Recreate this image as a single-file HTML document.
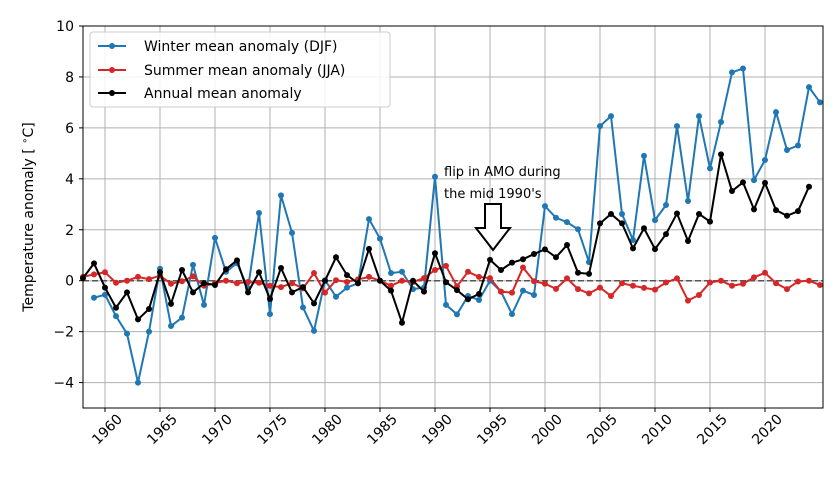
<!DOCTYPE html>
<html><head><meta charset="utf-8"><style>
body{margin:0;background:#fff;}
svg{display:block;font-family:"DejaVu Sans","Liberation Sans",sans-serif;}
</style></head><body>
<svg id="chart" width="840" height="480" viewBox="0 0 840 480">
<g id="grid"></g>
<g id="series"></g>
<rect x="83" y="26" width="740" height="382" fill="none" stroke="#000" stroke-width="1"/>
<g id="axes"></g>
<text transform="translate(33,217) rotate(-90)" text-anchor="middle" font-size="14">Temperature anomaly [ <tspan dy="-5" font-size="10">∘</tspan><tspan dy="5">C]</tspan></text>
<g>
<text x="444" y="176" font-size="13">flip in AMO during</text>
<text x="444" y="198" font-size="13">the mid 1990's</text>
<path d="M485,204 L501,204 L501,228 L510,228 L493,250 L476,228 L485,228 Z" fill="#fff" stroke="#000" stroke-width="2"/>
</g>
<g>
<rect x="90" y="32" width="300" height="75" rx="3" fill="#fff" fill-opacity="0.85" stroke="#ccc"/>
<g><line x1="98" y1="46" x2="126" y2="46" stroke="#1f77b4" stroke-width="2"/><circle cx="112" cy="46" r="3" fill="#1f77b4"/><text x="144" y="51" font-size="14">Winter mean anomaly (DJF)</text></g>
<g><line x1="98" y1="70" x2="126" y2="70" stroke="#d62728" stroke-width="2"/><circle cx="112" cy="70" r="3" fill="#d62728"/><text x="144" y="75" font-size="14">Summer mean anomaly (JJA)</text></g>
<g><line x1="98" y1="93" x2="126" y2="93" stroke="#000" stroke-width="2"/><circle cx="112" cy="93" r="3" fill="#000"/><text x="144" y="98" font-size="14">Annual mean anomaly</text></g>
</g>
</svg>
<script>
const winterYears=[1959,1960,1961,1962,1963,1964,1965,1966,1967,1968,1969,1970,1971,1972,1973,1974,1975,1976,1977,1978,1979,1980,1981,1982,1983,1984,1985,1986,1987,1988,1989,1990,1991,1992,1993,1994,1995,1996,1997,1998,1999,2000,2001,2002,2003,2004,2005,2006,2007,2008,2009,2010,2011,2012,2013,2014,2015,2016,2017,2018,2019,2020,2021,2022,2023,2024,2025];
const winterValues=[-0.67,-0.55,-1.39,-2.08,-4.0,-2.0,0.47,-1.78,-1.45,0.62,-0.95,1.68,0.35,0.69,-0.3,2.66,-1.31,3.35,1.88,-1.05,-1.97,0.02,-0.63,-0.27,-0.1,2.42,1.65,0.3,0.35,-0.33,-0.27,4.08,-0.95,-1.32,-0.6,-0.76,0.0,-0.43,-1.31,-0.39,-0.56,2.93,2.47,2.3,2.02,0.73,6.07,6.46,2.62,1.6,4.9,2.38,2.97,6.07,3.13,6.46,4.41,6.23,8.18,8.33,3.95,4.74,6.62,5.13,5.31,7.6,7.0];
const summerYears=[1958,1959,1960,1961,1962,1963,1964,1965,1966,1967,1968,1969,1970,1971,1972,1973,1974,1975,1976,1977,1978,1979,1980,1981,1982,1983,1984,1985,1986,1987,1988,1989,1990,1991,1992,1993,1994,1995,1996,1997,1998,1999,2000,2001,2002,2003,2004,2005,2006,2007,2008,2009,2010,2011,2012,2013,2014,2015,2016,2017,2018,2019,2020,2021,2022,2023,2024,2025];
const summerValues=[0.15,0.25,0.33,-0.08,0.0,0.15,0.06,0.2,-0.12,-0.02,0.17,-0.2,-0.1,0.0,-0.1,-0.05,-0.08,-0.2,-0.25,-0.1,-0.3,0.3,-0.47,0.02,-0.05,0.05,0.15,0.0,-0.2,0.0,-0.05,0.1,0.42,0.58,-0.22,0.35,0.15,0.1,-0.43,-0.47,0.52,-0.02,-0.12,-0.32,0.09,-0.33,-0.5,-0.27,-0.6,-0.1,-0.2,-0.28,-0.35,-0.07,0.09,-0.78,-0.56,-0.07,0.0,-0.2,-0.12,0.13,0.31,-0.1,-0.33,-0.03,0.0,-0.17];
const annualYears=[1958,1959,1960,1961,1962,1963,1964,1965,1966,1967,1968,1969,1970,1971,1972,1973,1974,1975,1976,1977,1978,1979,1980,1981,1982,1983,1984,1985,1986,1987,1988,1989,1990,1991,1992,1993,1994,1995,1996,1997,1998,1999,2000,2001,2002,2003,2004,2005,2006,2007,2008,2009,2010,2011,2012,2013,2014,2015,2016,2017,2018,2019,2020,2021,2022,2023,2024];
const annualValues=[0.1,0.68,-0.27,-1.06,-0.46,-1.52,-1.11,0.33,-0.91,0.42,-0.46,-0.1,-0.17,0.45,0.8,-0.46,0.33,-0.72,0.5,-0.46,-0.25,-0.89,0.0,0.92,0.22,-0.1,1.25,0.0,-0.39,-1.65,0.0,-0.43,1.08,-0.06,-0.37,-0.73,-0.52,0.82,0.42,0.71,0.84,1.05,1.23,0.92,1.4,0.31,0.27,2.25,2.62,2.25,1.27,2.06,1.24,1.83,2.64,1.56,2.62,2.32,4.96,3.52,3.86,2.8,3.84,2.77,2.55,2.73,3.69];
const xTicks=[1960,1965,1970,1975,1980,1985,1990,1995,2000,2005,2010,2015,2020];
const yTicks=[-4,-2,0,2,4,6,8,10];

const X=y=>105+(y-1960)*11;
const Y=v=>280.7-v*25.47;
const NS="http://www.w3.org/2000/svg";
function mk(tag,attrs,parent){const e=document.createElementNS(NS,tag);for(const k in attrs)e.setAttribute(k,attrs[k]);parent.appendChild(e);return e;}
const grid=document.getElementById('grid'),axes=document.getElementById('axes'),series=document.getElementById('series');
xTicks.forEach(t=>{
  const g=mk('line',{x1:X(t),x2:X(t),y1:26,y2:408,stroke:'#b0b0b0','stroke-width':1},grid);
  
  
  mk('line',{x1:X(t),x2:X(t),y1:408,y2:412,stroke:'#000'},axes);
  const tx=mk('text',{'font-size':14,'text-anchor':'end',transform:`translate(${X(t)+18},${420}) rotate(-45)`},axes);
  tx.textContent=t;
  
  
});
yTicks.forEach(t=>{
  const g=mk('line',{x1:83,x2:823,y1:Y(t),y2:Y(t),stroke:'#b0b0b0','stroke-width':1},grid);
  
  
  mk('line',{x1:79,x2:83,y1:Y(t),y2:Y(t),stroke:'#000'},axes);
  const tx=mk('text',{x:74,y:Y(t)+5,'font-size':14,'text-anchor':'end'},axes);
  tx.textContent=t<0?'\u2212'+(-t):t;
  
  
});
const zl=mk('line',{x1:83,x2:823,y1:Y(0),y2:Y(0),stroke:'#555','stroke-width':1.5,'stroke-dasharray':'6,3'},series);


function drawSeries(xs,vs,color,name){
  const g=mk('g',{},series);
  
  
  mk('polyline',{points:xs.map((y,i)=>X(y)+','+Y(vs[i])).join(' '),fill:'none',stroke:color,'stroke-width':2},g);
  xs.forEach((y,i)=>{
    const c=mk('circle',{cx:X(y),cy:Y(vs[i]),r:3,fill:color},g);
    
    
  });
}
drawSeries(winterYears,winterValues,'#1f77b4','winter-series');
drawSeries(summerYears,summerValues,'#d62728','summer-series');
drawSeries(annualYears,annualValues,'#000000','annual-series');
</script>
</body></html>
